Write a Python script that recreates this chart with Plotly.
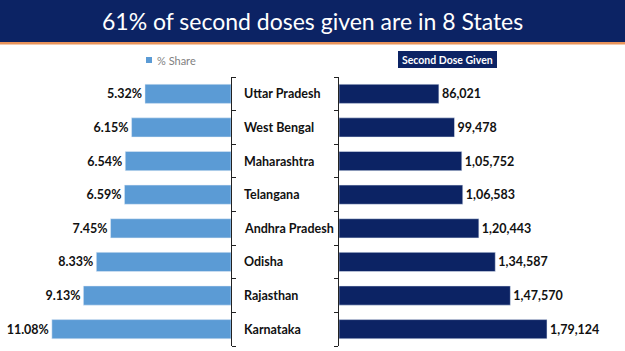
import plotly.graph_objects as go

states = ["Uttar Pradesh", "West Bengal", "Maharashtra", "Telangana",
          "Andhra Pradesh", "Odisha", "Rajasthan", "Karnataka"]
share_pct = [5.32, 6.15, 6.54, 6.59, 7.45, 8.33, 9.13, 11.08]
second_dose = [86021, 99478, 105752, 106583, 120443, 134587, 147570, 179124]

title = "61% of second doses given are in 8 States"
left_legend = "% Share"
right_legend = "Second Dose Given"

W, H = 625, 351
NAVY = "#0c2364"
BLUE = "#5b9bd5"


def indian_fmt(n):
    s = str(int(n))
    if len(s) <= 3:
        return s
    last3 = s[-3:]
    rest = s[:-3]
    parts = []
    while len(rest) > 2:
        parts.insert(0, rest[-2:])
        rest = rest[:-2]
    if rest:
        parts.insert(0, rest)
    return ",".join(parts) + "," + last3


def px(x):
    return x / W


def py(y):
    return 1 - y / H


LBL_FONT = dict(family="Lato, Arial", size=12.5, color="#111111")

fig = go.Figure()
fig.add_trace(go.Bar(
    x=share_pct, y=states, orientation="h", marker_color=BLUE,
    width=0.57, xaxis="x", yaxis="y",
    text=[f"{v:.2f}%" for v in share_pct], textposition="outside",
    textfont=dict(family="Lato, Arial", size=12.5, color="#111111"),
    cliponaxis=False, showlegend=False,
))
fig.add_trace(go.Bar(
    x=second_dose, y=states, orientation="h", marker_color=NAVY,
    width=0.57, xaxis="x2", yaxis="y2",
    text=[indian_fmt(v) for v in second_dose], textposition="outside",
    textfont=dict(family="Lato, Arial", size=12.5, color="#111111"),
    cliponaxis=False, showlegend=False,
))

ydom = [py(346), py(77)]
fig.update_layout(
    width=W, height=H, margin=dict(l=0, r=0, t=0, b=0),
    paper_bgcolor="white", plot_bgcolor="white",
    font=dict(family="Lato, Arial"),
    xaxis=dict(domain=[px(31), px(231)], range=[12.37, 0], visible=False, fixedrange=True),
    xaxis2=dict(domain=[px(339), px(620)], range=[0, 242000], visible=False),
    yaxis=dict(domain=ydom, anchor="x", side="right", categoryorder="array",
               categoryarray=states[::-1], showline=True, linecolor="#222",
               linewidth=1, ticks="outside", ticklen=4, tickcolor="#222",
               tickson="boundaries", showticklabels=False, showgrid=False),
    yaxis2=dict(domain=ydom, anchor="x2", side="left", categoryorder="array",
                categoryarray=states[::-1], showline=True, linecolor="#222",
                linewidth=1, ticks="outside", ticklen=4, tickcolor="#222",
                tickson="boundaries", showticklabels=False, showgrid=False),
)

shapes = [
    dict(type="rect", xref="paper", yref="paper", x0=0, x1=1, y0=py(42), y1=1,
         fillcolor=NAVY, line_width=0, layer="below"),
    dict(type="rect", xref="paper", yref="paper", x0=0, x1=1, y0=py(44.5), y1=py(42),
         fillcolor="#e8935a", line_width=0),
    dict(type="rect", xref="paper", yref="paper", x0=px(146), x1=px(152),
         y0=py(63), y1=py(57), fillcolor=BLUE, line_width=0),
    dict(type="rect", xref="paper", yref="paper", x0=px(398), x1=px(497),
         y0=py(68), y1=py(51), fillcolor=NAVY, line_width=0),
]
annotations = [
    dict(text=title, x=0.5, y=py(21), xref="paper", yref="paper",
         showarrow=False, font=dict(family="Lato, Arial", size=23, color="white"),
         xanchor="center", yanchor="middle"),
    dict(text=left_legend, x=px(155), y=py(60), xref="paper", yref="paper",
         showarrow=False, xanchor="left", yanchor="middle",
         font=dict(family="Lato, Arial", size=11, color="#7f7f7f")),
    dict(text="<b>" + right_legend + "</b>", x=px(447.5), y=py(59.5), xref="paper",
         yref="paper", showarrow=False, xanchor="center", yanchor="middle",
         font=dict(family="Lato, Arial", size=10.5, color="white")),
]
for s in states:
    annotations.append(dict(text="<b>" + s + "</b>", x=px(242), y=s, xref="paper",
                            yref="y", showarrow=False, xanchor="left",
                            yanchor="middle", font=LBL_FONT))
fig.update_layout(shapes=shapes, annotations=annotations)
fig.update_traces(texttemplate="<b>%{text}</b>")

fig.write_html("out.html")
